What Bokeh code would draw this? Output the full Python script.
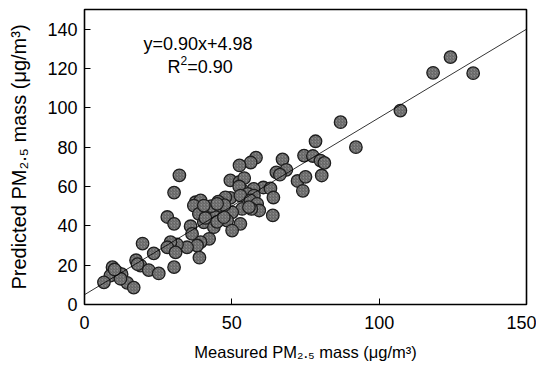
import numpy as np
from bokeh.plotting import figure
from bokeh.models import Label, Slope, FixedTicker, Range1d
from bokeh.embed import file_html
from bokeh.resources import INLINE

# ---------------- data ----------------
measured = [124.2, 118.3, 131.9, 107.2, 86.9, 92.1, 78.4, 74.5, 77.5, 80.1,
            81.4, 80.5, 67.2, 68.5, 65.1, 66.3, 72.3, 75.0, 74.1, 58.2,
            56.4, 52.6, 32.2, 30.4, 49.5, 52.6, 54.2, 60.7, 63.1, 64.1,
            63.9, 54.1, 52.5, 57.4, 55.4, 57.5, 49.5, 52.9, 47.8, 45.4,
            56.3, 58.6, 59.3, 56.6, 53.5, 55.8, 37.7, 39.4, 37.1, 38.8,
            42.2, 46.5, 50.1, 40.5, 43.9, 48.4, 52.9, 50.1, 36.0, 36.5,
            42.3, 39.4, 38.2, 34.8, 31.4, 29.2, 28.1, 30.9, 39.0, 28.1,
            30.4, 19.7, 23.5, 17.5, 19.0, 21.8, 25.2, 30.4, 9.5, 11.1,
            12.6, 8.8, 6.6, 14.5, 16.7, 12.2, 44.5, 41.0, 47.5, 45.0,
            43.0, 18.0, 10.2, 40.5, 47.3, 45.0]
predicted = [125.8, 117.8, 117.6, 98.6, 92.7, 80.0, 83.0, 75.7, 75.5, 73.2,
             72.0, 65.6, 73.8, 68.5, 67.2, 66.0, 62.8, 64.9, 57.8, 74.7,
             72.2, 70.7, 65.7, 56.9, 63.1, 62.3, 64.3, 59.5, 59.0, 54.4,
             45.3, 57.5, 60.0, 58.8, 56.3, 55.4, 54.2, 55.4, 54.5, 52.3,
             52.9, 51.2, 47.8, 48.6, 48.6, 49.5, 52.0, 52.9, 50.3, 46.1,
             46.9, 48.0, 46.9, 41.8, 39.3, 42.7, 41.0, 37.6, 39.8, 35.9,
             33.4, 31.7, 30.0, 29.1, 30.5, 31.7, 29.1, 26.5, 23.8, 44.5,
             41.0, 31.0, 26.0, 22.5, 19.8, 17.5, 15.8, 19.0, 19.0, 16.4,
             15.4, 14.7, 11.3, 11.0, 8.6, 13.1, 44.5, 44.0, 50.5, 42.0,
             50.0, 20.5, 17.8, 50.3, 44.4, 51.2]
fit_slope = 0.90
fit_intercept = 4.98
eq_text = "y=0.90x+4.98"
r2_value = "=0.90"
x_ticks = [0, 50, 100, 150]
y_ticks = [0, 20, 40, 60, 80, 100, 120, 140]
x_title = "Measured PM\u2082.\u2085 mass (\u03bcg/m\u00b3)"
y_title = "Predicted PM\u2082.\u2085 mass (\u03bcg/m\u00b3)"

# ---------------- layout ----------------
W, H = 536, 370
BL, BT = 84, 9
BR, BB = W - 526, H - 304
FW, FH = W - BL - BR, H - BT - BB
FONT = "Liberation Sans"

p = figure(width=W, height=H, x_range=Range1d(0, 150), y_range=Range1d(0, 150),
           output_backend="svg", toolbar_location=None,
           min_border_left=BL, min_border_right=BR, min_border_top=BT, min_border_bottom=BB)
p.xgrid.visible = False
p.ygrid.visible = False
p.outline_line_color = "black"
p.outline_line_width = 1.6
p.background_fill_color = "white"
p.border_fill_color = "white"

for ax, ticks, standoff in ((p.xaxis[0], x_ticks, 11), (p.yaxis[0], y_ticks, 7)):
    ax.ticker = FixedTicker(ticks=ticks)
    ax.axis_line_color = None
    ax.major_tick_in = 6
    ax.major_tick_out = 0
    ax.major_tick_line_color = "black"
    ax.major_tick_line_width = 1
    ax.minor_tick_line_color = None
    ax.major_label_text_font = FONT
    ax.major_label_text_font_size = "18px"
    ax.major_label_text_color = "black"
    ax.major_label_standoff = standoff
    ax.axis_label_text_font = FONT
    ax.axis_label_text_font_style = "normal"
    ax.axis_label_text_color = "black"

p.xaxis[0].axis_label = x_title
p.xaxis[0].axis_label_text_font_size = "16.5px"
p.xaxis[0].axis_label_standoff = 11
p.yaxis[0].axis_label = y_title
p.yaxis[0].axis_label_text_font_size = "20px"
p.yaxis[0].axis_label_standoff = 14

# regression line
p.add_layout(Slope(gradient=fit_slope, y_intercept=fit_intercept,
                   line_color="black", line_width=0.8))

# scatter points
p.scatter(measured, predicted, size=12.5, marker="circle",
          fill_color="#8a8a8a", line_color="#1e1e1e", line_width=1.3,
          hatch_pattern="right_diagonal_line", hatch_color="#3a3a3a",
          hatch_scale=3.0, hatch_weight=0.7, hatch_alpha=0.8)

# ---------------- equation text ----------------
AFM = {'R': 722, '2': 556}
def tw(s, fs):
    return sum(AFM.get(ch, 556) for ch in s) * fs / 1000.0

def dx(px):  # page x pixel -> data x
    return (px - BL) / FW * 150.0
def dy(py):  # page y pixel -> data y
    return (BT + FH - py) / FH * 150.0

def lab(x, y, text, fs):
    p.add_layout(Label(x=x, y=y, text=text, text_font=FONT,
                       text_font_size=f"{fs}px", text_color="black",
                       text_align="left", text_baseline="alphabetic"))

EQ_FS = 18
lab(dx(143), dy(43.5), eq_text, EQ_FS)
rx = 167
lab(dx(rx), dy(66.5), "R", EQ_FS)
rx += tw("R", EQ_FS)
lab(dx(rx), dy(66.5 - 7), "2", 12)
rx += tw("2", 12)
lab(dx(rx), dy(66.5), r2_value, EQ_FS)

open("out.html", "w").write(file_html(p, INLINE))
